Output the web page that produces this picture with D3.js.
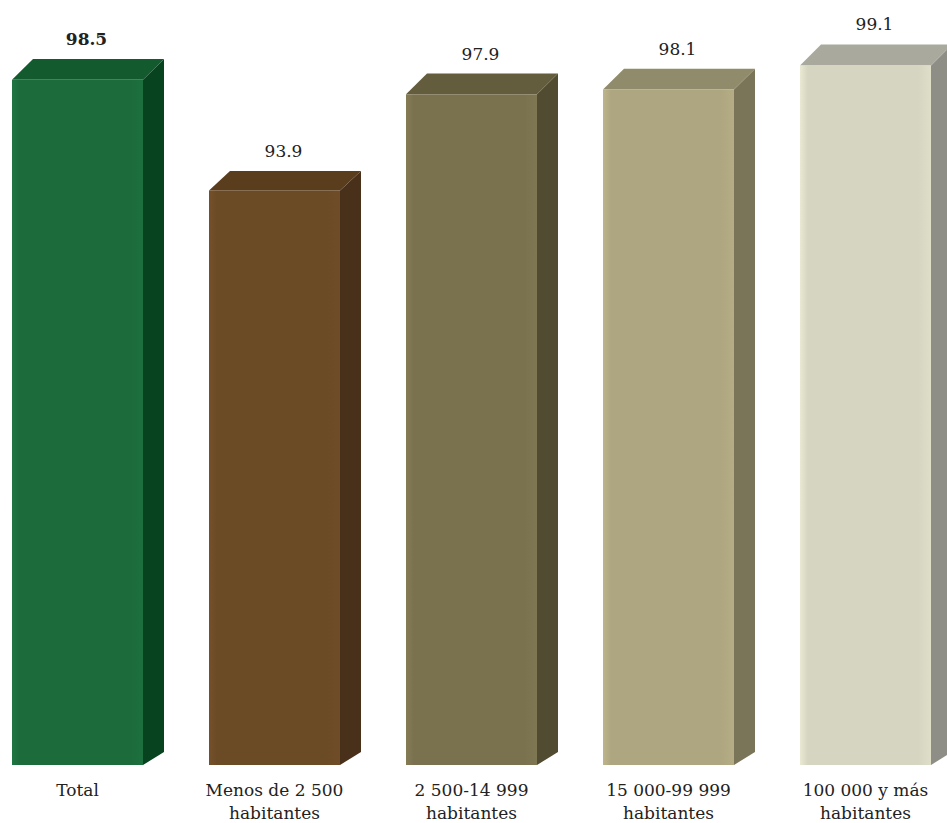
<!DOCTYPE html>
<html><head><meta charset="utf-8">
<script src="https://cdn.jsdelivr.net/npm/d3@7"></script>
<style>
html,body{margin:0;padding:0;background:#fff;overflow:hidden}
</style>
</head><body>
<svg id="chart" width="947" height="823"></svg>
<script>
const categories = ["Total", "Menos de 2 500\nhabitantes", "2 500-14 999\nhabitantes", "15 000-99 999\nhabitantes", "100 000 y más\nhabitantes"];
const values = [98.5, 93.9, 97.9, 98.1, 99.1];
const valueLabels = ["98.5", "93.9", "97.9", "98.1", "99.1"];
const frontColors = ["#1c6b3b", "#6b4a26", "#7a714f", "#aea680", "#d6d5c1"];
const topColors = ["#135b2f", "#5a3d1d", "#645d3d", "#908b6a", "#a9a99d"];
const sideColors = ["#08431f", "#48301a", "#514b31", "#7a7559", "#8e8e86"];

const FONT = "DejaVu Serif";
const svg = d3.select("#chart");
const baseY = 765;
const x = d3.scaleBand().domain(categories).range([12, 931]).paddingInner(0.335).paddingOuter(0);
const y = d3.scaleLinear().domain([70, 100]).range([baseY, 43.8]);
const dx = 21;
const dyAt = yy => 13 + (baseY - yy) * (8 / 700);

const defs = svg.append("defs");
frontColors.forEach((c, i) => {
  const g = defs.append("linearGradient").attr("id", "fg" + i).attr("x1", 0).attr("x2", 1).attr("y1", 0).attr("y2", 0);
  const base = d3.color(c);
  g.append("stop").attr("offset", 0).attr("stop-color", base.brighter(0.25));
  g.append("stop").attr("offset", 0.06).attr("stop-color", base);
  g.append("stop").attr("offset", 0.9).attr("stop-color", base);
  g.append("stop").attr("offset", 1).attr("stop-color", base.brighter(0.12));
});

const bars = svg.selectAll("g.bar").data(values).join("g").attr("class", "bar");
bars.each(function(v, i) {
  const g = d3.select(this);
  const x0 = x(categories[i]);
  const x1 = x0 + x.bandwidth();
  const yt = y(v);
  const dyT = dyAt(yt), dyB = dyAt(baseY);
  g.append("path").attr("fill", sideColors[i])
    .attr("d", `M${x1},${yt}L${x1 + dx},${yt - dyT}L${x1 + dx},${baseY - dyB}L${x1},${baseY}Z`);
  g.append("path").attr("fill", topColors[i])
    .attr("d", `M${x0},${yt}L${x0 + dx},${yt - dyT}L${x1 + dx},${yt - dyT}L${x1},${yt}Z`);
  g.append("rect").attr("x", x0).attr("y", yt).attr("width", x1 - x0).attr("height", baseY - yt)
    .attr("fill", `url(#fg${i})`);
  g.append("text").attr("x", (x0 + x1) / 2 + 9).attr("y", yt - dyT - 14)
    .attr("text-anchor", "middle")
    .style("font-family", FONT)
    .attr("font-size", 17).attr("fill", "#222")
    .attr("font-weight", i === 0 ? "bold" : "normal")
    .text(valueLabels[i]);
});

const labs = svg.selectAll("text.cat").data(categories).join("text").attr("class", "cat")
  .attr("text-anchor", "middle")
  .style("font-family", FONT)
  .attr("font-size", 17).attr("fill", "#222")
  .attr("x", d => x(d) + x.bandwidth() / 2)
  .attr("y", 796);
labs.each(function(d) {
  const t = d3.select(this);
  d.split("\n").forEach((line, j) => {
    t.append("tspan").attr("x", x(d) + x.bandwidth() / 2).attr("dy", j === 0 ? 0 : 23).text(line);
  });
});
</script>
</body></html>
